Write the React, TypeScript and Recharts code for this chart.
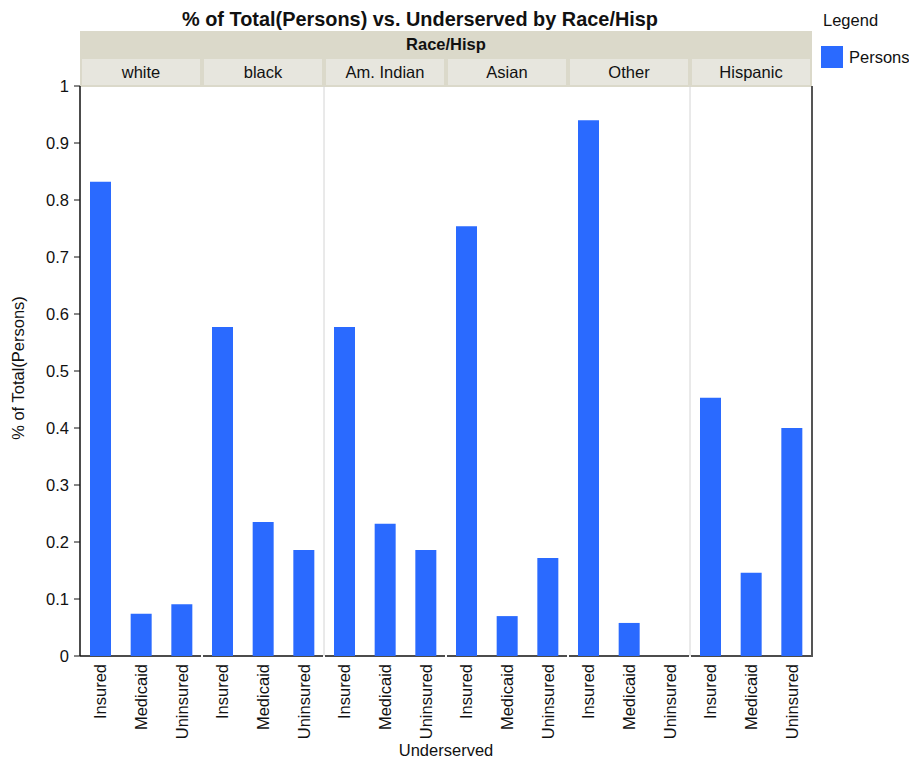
import React from 'react';
import { BarChart, Bar, XAxis, YAxis, Customized, usePlotArea } from 'recharts';

const races = ['white', 'black', 'Am. Indian', 'Asian', 'Other', 'Hispanic'];
const underserved = ['Insured', 'Medicaid', 'Uninsured'];
const white = [0.832, 0.074, 0.091];
const black = [0.577, 0.235, 0.186];
const amIndian = [0.577, 0.232, 0.186];
const asian = [0.754, 0.07, 0.172];
const other = [0.94, 0.058, 0];
const hispanic = [0.453, 0.146, 0.4];
const yTicks = [0, 0.1, 0.2, 0.3, 0.4, 0.5, 0.6, 0.7, 0.8, 0.9, 1];

const seriesName = 'Persons';
const barColor = '#2a6aff';
const FONT = '"Liberation Sans", Arial, Helvetica, sans-serif';

const valuesByRace = [white, black, amIndian, asian, other, hispanic];
const data = races.flatMap((r, i) =>
  underserved.map((u, j) => ({ key: `${r}|${u}`, race: r, u, [seriesName]: valuesByRace[i][j] }))
);

const XTick = (props: any) => {
  const { x, y, payload } = props;
  const label = String(payload.value).split('|')[1];
  return (
    <text
      x={x}
      y={y}
      transform={`rotate(-90, ${x}, ${y})`}
      textAnchor="end"
      dy="0.36em"
      fontSize={16.5}
      fontFamily={FONT}
      fill="#111"
    >
      {label}
    </text>
  );
};

const Overlay = () => {
  const pa = usePlotArea();
  if (!pa) return null;
  const { x, y, width, height } = pa;
  const n = races.length;
  const pw = width / n;
  const bottom = y + height;
  const yLabelY = y + height / 2 - 3;
  return (
    <g>
      {/* header band */}
      <rect x={x} y={y - 55} width={width} height={56} fill="#dbd9ca" />
      <text x={x + width / 2} y={y - 42} textAnchor="middle" dominantBaseline="central" fontSize={16.5} fontWeight="bold" fontFamily={FONT} fill="#111">
        Race/Hisp
      </text>
      {races.map((r, i) => (
        <g key={r}>
          <rect x={x + i * pw + 2} y={y - 27} width={pw - 4} height={26} fill="#e7e6de" />
          <text x={x + i * pw + pw / 2} y={y - 14} textAnchor="middle" dominantBaseline="central" fontSize={16.5} fontFamily={FONT} fill="#111">
            {r}
          </text>
        </g>
      ))}
      {/* vertical separators */}
      {[2, 5].map((i) => (
        <line key={i} x1={x + i * pw} x2={x + i * pw} y1={y} y2={bottom} stroke="#d4d4d4" strokeWidth={1} />
      ))}
      {/* x axis segments */}
      {races.map((r, i) => (
        <line key={r} x1={x + i * pw + (i === 0 ? 0 : 1)} x2={x + (i + 1) * pw - 1} y1={bottom} y2={bottom} stroke="#111" strokeWidth={1.5} />
      ))}
      {/* right border */}
      <line x1={x + width} x2={x + width} y1={y} y2={bottom + 1} stroke="#555" strokeWidth={2} />
      {/* y-axis title */}
      <text x={18} y={yLabelY} transform={`rotate(-90, 18, ${yLabelY})`} textAnchor="middle" dominantBaseline="central" fontSize={16.5} fontFamily={FONT} fill="#111">
        % of Total(Persons)
      </text>
      {/* x-axis title */}
      <text x={x + width / 2} y={750} textAnchor="middle" dominantBaseline="central" fontSize={16.5} fontFamily={FONT} fill="#111">
        Underserved
      </text>
      {/* chart title */}
      <text x={420} y={19} textAnchor="middle" dominantBaseline="central" fontSize={19.9} fontWeight="bold" fontFamily={FONT} fill="#111">
        % of Total(Persons) vs. Underserved by Race/Hisp
      </text>
      {/* legend */}
      <text x={823} y={20} dominantBaseline="central" fontSize={16.5} fontFamily={FONT} fill="#111">
        Legend
      </text>
      <rect x={821} y={46} width={22} height={22} fill={barColor} />
      <text x={849} y={57} dominantBaseline="central" fontSize={16.5} fontFamily={FONT} fill="#111">
        {seriesName}
      </text>
    </g>
  );
};

export default function App() {
  return (
    <div style={{ position: 'absolute', left: 0, top: 0, width: 909, height: 761, background: '#fff' }}>
      <BarChart width={909} height={761} data={data} margin={{ top: 86, right: 97, bottom: 0, left: 0 }} barCategoryGap={0}>
        <XAxis
          dataKey="key"
          interval={0}
          axisLine={false}
          tickLine={false}
          tick={<XTick />}
          tickMargin={2}
          height={105}
        />
        <YAxis
          width={80}
          domain={[0, 1]}
          ticks={yTicks}
          tickFormatter={(v: number) => String(Math.round(v * 10) / 10)}
          tick={{ fontSize: 16.5, fontFamily: FONT, fill: '#111' }}
          tickLine={{ stroke: '#111' }}
          axisLine={{ stroke: '#111', strokeWidth: 1.5 }}
          tickSize={6}
          tickMargin={5}
        />
        <Bar dataKey={seriesName} fill={barColor} barSize={21} isAnimationActive={false} />
        <Customized component={<Overlay />} />
      </BarChart>
    </div>
  );
}
